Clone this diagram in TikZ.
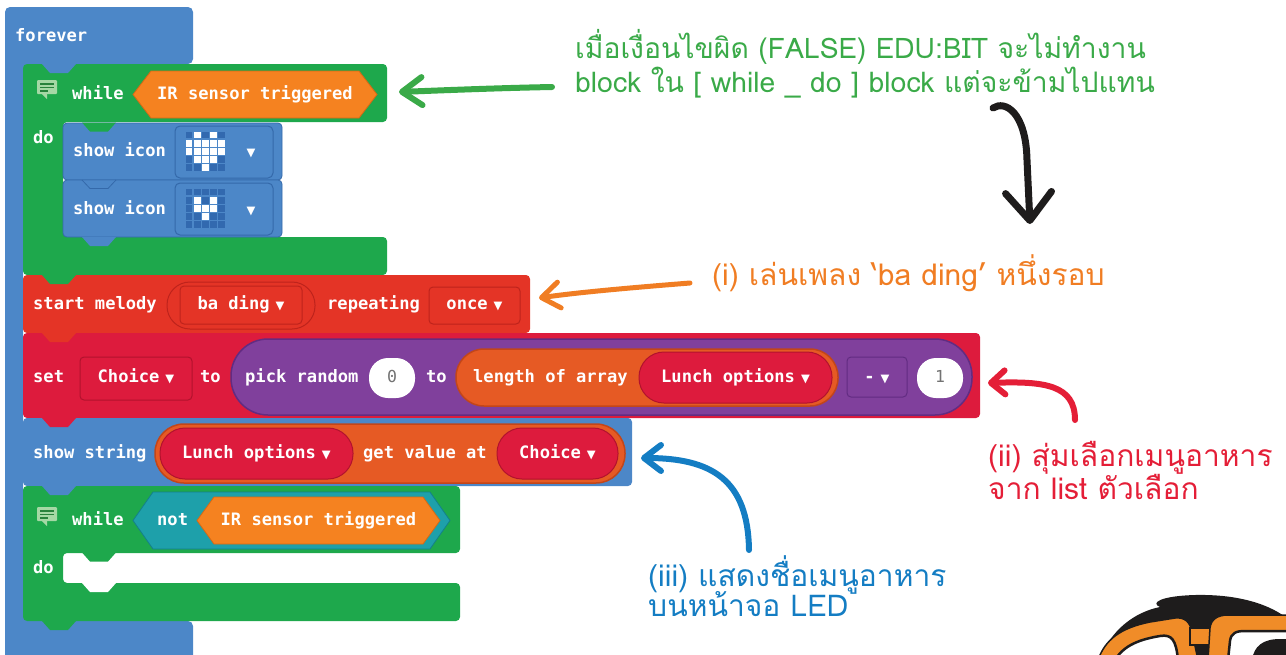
\documentclass[tikz,border=0pt]{standalone}
\usepackage{fontspec}
\setmainfont{DejaVu Sans}
\newfontfamily\codefont{DejaVu Sans Mono}
\newfontfamily\markfont{DejaVu Sans}
\newfontfamily\thaifont[Script=Thai]{Loma}
\usetikzlibrary{arrows.meta}

% block palette
\definecolor{basicblue}{RGB}{76,135,200}
\definecolor{basicdark}{RGB}{52,105,170}
\definecolor{leddark}{RGB}{50,105,175}
\definecolor{loopgreen}{RGB}{30,168,76}
\definecolor{commentgreen}{RGB}{165,216,165}
\definecolor{commentline}{RGB}{40,130,60}
\definecolor{sensororange}{RGB}{245,130,32}
\definecolor{sensordark}{RGB}{214,105,20}
\definecolor{musicred}{RGB}{228,52,38}
\definecolor{musicdark}{RGB}{190,35,28}
\definecolor{varcrimson}{RGB}{221,27,61}
\definecolor{vardark}{RGB}{178,18,45}
\definecolor{mathpurple}{RGB}{128,64,156}
\definecolor{mathdark}{RGB}{98,44,130}
\definecolor{arrayorange}{RGB}{230,90,36}
\definecolor{arraydark}{RGB}{195,70,25}
\definecolor{logicteal}{RGB}{30,160,170}
\definecolor{logicdark}{RGB}{20,128,138}
% note palette
\definecolor{notegreen}{RGB}{58,170,72}
\definecolor{noteorange}{RGB}{240,125,35}
\definecolor{notered}{RGB}{228,30,55}
\definecolor{noteblue}{RGB}{20,125,195}
\definecolor{inkblack}{RGB}{30,28,28}
\definecolor{frameorange}{RGB}{240,140,40}

\newcommand\droptri{{\markfont\fontsize{11.5}{12}\selectfont ▼}}
\newcommand\dropmark{\hspace{6pt}\droptri}
% puzzle tab below a statement block: colour, left x, top y
\newcommand\puzzletab[3]{\fill[#1] (#2,#3) -- ++(34,0) -- ++(-8,9) -- ++(-18,0) -- cycle;}
% comment bubble at top-left corner x,y
\newcommand\commentmark[2]{%
  \fill[commentgreen, rounded corners=1] (#1,#2) rectangle ++(20,14);
  \fill[commentgreen] (#1+5,#2+14) -- ++(5,5) -- ++(0,-5) -- cycle;
  \draw[commentline, line width=1.2] (#1+3,#2+4) -- ++(14,0) (#1+3,#2+7.5) -- ++(14,0) (#1+3,#2+11) -- ++(8,0);}

\tikzset{
  code/.style={font=\codefont\bfseries\fontsize{17.1}{19}\selectfont, text=white,
    inner sep=0pt, text height=12pt, text depth=4pt},
  codew/.style={code, anchor=west},
  numtxt/.style={font=\codefont\fontsize{16.5}{18}\selectfont, text=black!55,
    inner sep=0pt, text height=12pt, text depth=4pt},
  note/.style={font=\thaifont\fontsize{30}{33}\selectfont, inner sep=0pt, anchor=base west},
  greennote/.style={note, font=\thaifont\fontsize{28.3}{32}\selectfont, text=notegreen},
  notearrow/.style={line width=6pt, line cap=round},
}

\begin{document}
\begin{tikzpicture}[x=1pt,y=-1pt]
\useasboundingbox (0,0) rectangle (1286,654);
\clip (0,0) rectangle (1286,654);

% ---------- forever ----------
\fill[basicblue, rounded corners=5] (5,7) -- (193,7) -- (193,64) -- (23,64) -- (23,621)
  -- (193,621) -- (193,680) -- (5,680) -- cycle;
\node[codew] (forever) at (15,37) {forever};

% ---------- while IR sensor triggered ----------
\fill[loopgreen, rounded corners=4] (23,64) -- (387,64) -- (387,122) -- (63,122) -- (63,237)
  -- (387,237) -- (387,275) -- (23,275) -- cycle;
\puzzletab{basicblue}{42}{64}
\commentmark{37}{80}
\node[codew] (while1) at (72,95) {while};
\filldraw[fill=sensororange, draw=sensordark, line width=0.8]
  (133,94.5) -- (151,71) -- (359,71) -- (377,94.5) -- (359,118) -- (151,118) -- cycle;
\node[code] (ir1) at (255,95) {IR sensor triggered};
\node[codew] (do1) at (33,139) {do};

% show icon blocks
\filldraw[fill=basicblue, draw=basicdark, line width=0.8, rounded corners=4] (63,123) rectangle (282,180);
\filldraw[fill=basicblue, draw=basicdark, line width=0.8, rounded corners=4] (63,180) rectangle (282,237);
\puzzletab{loopgreen}{82}{122.5}
\fill[basicblue] (82.5,180.5) -- ++(33,0) -- ++(-8,8) -- ++(-17,0) -- cycle;
\draw[basicdark, line width=0.8] (82,180) -- ++(8,8.5) -- ++(18,0) -- ++(8,-8.5);
\puzzletab{basicblue}{82}{237}
\node[codew] (icon1) at (73,152) {show icon};
\node[codew] (icon2) at (73,210) {show icon};
\filldraw[fill=basicblue, draw=basicdark, line width=1, rounded corners=5] (175,126) rectangle (273,178);
\filldraw[fill=basicblue, draw=basicdark, line width=1, rounded corners=5] (175,183) rectangle (273,235);
% LED grids
\foreach \c in {0,...,4}{
  \foreach \r in {0,...,4}{
    \fill[leddark] (185.5+\c*8.2,131.5+\r*8.2) rectangle ++(6.8,6.8);
    \fill[leddark] (185.5+\c*8.2,188.5+\r*8.2) rectangle ++(6.8,6.8);
  }}
\foreach \c/\r in {1/0,3/0,0/1,1/1,2/1,3/1,4/1,0/2,1/2,2/2,3/2,4/2,1/3,2/3,3/3,2/4}
  \fill[white] (185.5+\c*8.2,131.5+\r*8.2) rectangle ++(6.8,6.8);
\foreach \c/\r in {1/1,3/1,1/2,2/2,3/2,2/3}
  \fill[white] (185.5+\c*8.2,188.5+\r*8.2) rectangle ++(6.8,6.8);
\node[code] (drop1) at (251,152) {\droptri};
\node[code] (drop2) at (251,210) {\droptri};

% ---------- start melody ----------
\fill[musicred, rounded corners=4] (23,275) rectangle (530,333);
\puzzletab{loopgreen}{42}{275}
\node[codew] (melody) at (33,305) {start melody};
\draw[musicdark, line width=1, rounded corners=23] (167,282) rectangle (315,329);
\draw[musicdark, line width=1, rounded corners=4] (180,286) rectangle (302,324);
\node[code] (bading) at (241,305) {ba ding\dropmark};
\node[codew] (repeating) at (327,305) {repeating};
\draw[musicdark, line width=1, rounded corners=4] (429,287) rectangle (520,324);
\node[code] (once) at (474.5,305) {once\dropmark};

% ---------- set Choice ----------
\fill[varcrimson, rounded corners=4] (23,333) rectangle (980,418);
\puzzletab{musicred}{42}{333}
\node[codew] (set) at (33,378) {set};
\draw[vardark, line width=1, rounded corners=4] (80,357) rectangle (192,400);
\node[code] (choice1) at (136,378) {Choice\dropmark};
\node[codew] (to1) at (200,378) {to};
\filldraw[fill=mathpurple, draw=mathdark, line width=1.5, rounded corners=37] (231,339) rectangle (972,415);
\node[codew] (pick) at (245,378) {pick random};
\fill[white, rounded corners=19] (369,358) rectangle (415,398);
\node[numtxt] (zero) at (392,378) {0};
\node[codew] (to2) at (426,378) {to};
\filldraw[fill=arrayorange, draw=arraydark, line width=1.5, rounded corners=28] (456,349) rectangle (838,406);
\node[codew] (length) at (473,378) {length of array};
\filldraw[fill=varcrimson, draw=vardark, line width=1, rounded corners=25] (639,352) rectangle (832,403);
\node[code] (lunch1) at (735.5,378) {Lunch options\dropmark};
\draw[mathdark, line width=1, rounded corners=4] (847,357) rectangle (907,397);
\node[code] (minus) at (877,378) {-\dropmark};
\fill[white, rounded corners=19] (917,358) rectangle (963,398);
\node[numtxt] (one) at (940,378) {1};

% ---------- show string ----------
\fill[basicblue, rounded corners=4] (23,418) rectangle (632,486);
\puzzletab{varcrimson}{42}{418}
\node[codew] (showstr) at (33,454) {show string};
\filldraw[fill=arrayorange, draw=arraydark, line width=1.5, rounded corners=29] (155,424) rectangle (625,483);
\filldraw[fill=varcrimson, draw=vardark, line width=1, rounded corners=25] (160,428) rectangle (353,479);
\node[code] (lunch2) at (256.5,454) {Lunch options\dropmark};
\node[codew] (getval) at (363,454) {get value at};
\filldraw[fill=varcrimson, draw=vardark, line width=1, rounded corners=25] (497,428) rectangle (618,479);
\node[code] (choice2) at (557.5,454) {Choice\dropmark};

% ---------- while not IR sensor triggered ----------
\fill[loopgreen, rounded corners=4] (23,486) -- (460,486) -- (460,553) -- (63,553) -- (63,583)
  -- (460,583) -- (460,621) -- (23,621) -- cycle;
\puzzletab{basicblue}{42}{486}
\puzzletab{loopgreen}{82}{552.5}
\puzzletab{white}{82}{583}
\commentmark{37}{507}
\node[codew] (while2) at (72,521) {while};
\filldraw[fill=logicteal, draw=logicdark, line width=0.8]
  (133,520.5) -- (153,492) -- (430,492) -- (450,520.5) -- (430,549) -- (153,549) -- cycle;
\node[codew] (not) at (157,521) {not};
\filldraw[fill=sensororange, draw=sensordark, line width=0.8]
  (197,520.5) -- (214,497) -- (423,497) -- (440,520.5) -- (423,544) -- (214,544) -- cycle;
\node[code] (ir2) at (318.5,521) {IR sensor triggered};
\node[codew] (do2) at (33,569) {do};
\puzzletab{loopgreen}{42}{621}

% ---------- notes ----------
\node[greennote] (g1) at (575,58) {เมื่อเงื่อนไขผิด (FALSE) EDU:BIT จะไม่ทำงาน};
\node[greennote] (g2) at (575,92) {block ใน [ while \_ do ] block แต่จะข้ามไปแทน};
\node[note, text=noteorange] (o1) at (712,285) {(i) เล่นเพลง ‘ba ding’ หนึ่งรอบ};
\node[note, text=notered] (r1) at (988,466) {(ii) สุ่มเลือกเมนูอาหาร};
\node[note, text=notered] (r2) at (988,499) {จาก list ตัวเลือก};
\node[note, text=noteblue] (b1) at (648,586) {(iii) แสดงชื่อเมนูอาหาร};
\node[note, text=noteblue] (b2) at (648,616) {บนหน้าจอ LED};

% arrow end points
\coordinate (gs) at (552,87);   \coordinate (ge) at (399,92);
\coordinate (ks) at (993,108);  \coordinate (ke) at (1030,224);
\coordinate (os) at (690,283);  \coordinate (oe) at (539,298);
\coordinate (rs) at (1075,420); \coordinate (re) at (988,383);
\coordinate (bs) at (749,550);  \coordinate (be) at (641,458);

\draw[notearrow, notegreen, -{Straight Barb[round, length=20pt, width=28pt]}]
  (gs) .. controls (500,88) and (450,90) .. (ge);
\draw[notearrow, inkblack, line width=7pt, -{Straight Barb[round, length=28pt, width=46pt]}]
  (ks) .. controls (1005,100) and (1026,112) .. (1027,160) -- (ke);
\draw[notearrow, noteorange, line width=5pt, -{Straight Barb[round, length=18pt, width=26pt]}]
  (os) .. controls (640,287) and (580,292) .. (oe);
\draw[notearrow, notered, -{Straight Barb[round, length=14pt, width=24pt]}]
  (rs) .. controls (1075,385) and (1045,381) .. (re);
\draw[notearrow, noteblue, -{Straight Barb[round, length=17pt, width=26pt]}]
  (bs) .. controls (748,480) and (712,458) .. (be);

% ---------- mascot peeking in the corner ----------
\fill[inkblack] (1100,660) .. controls (1110,630) and (1135,612) .. (1160,607)
  .. controls (1150,603) and (1160,596) .. (1195,595)
  .. controls (1240,594) and (1275,605) .. (1295,625) -- (1295,660) -- cycle;
\filldraw[fill=frameorange, draw=inkblack, line width=1.5] (1098,660)
  .. controls (1105,640) and (1120,628) .. (1150,622) -- (1175,618)
  .. controls (1185,617) and (1190,622) .. (1192,632) -- (1198,660) -- cycle;
\filldraw[fill=white, draw=inkblack, line width=2.5] (1115,660)
  .. controls (1122,648) and (1135,640) .. (1160,636)
  .. controls (1172,634) and (1176,640) .. (1178,660) -- cycle;
\filldraw[fill=frameorange, draw=inkblack, line width=1.5] (1190,628) rectangle (1212,645);
\filldraw[fill=frameorange, draw=inkblack, line width=1.5] (1208,660) -- (1210,628)
  .. controls (1211,619) and (1218,615) .. (1228,615) -- (1295,615) -- (1295,660) -- cycle;
\filldraw[fill=white, draw=inkblack, line width=2.5] (1228,660) -- (1230,641)
  .. controls (1231,633) and (1236,631) .. (1245,631) -- (1295,631) -- (1295,660) -- cycle;
\fill[inkblack] (1252,660) .. controls (1254,646) and (1263,639) .. (1280,639) -- (1295,639) -- (1295,660) -- cycle;
\end{tikzpicture}
\end{document}
